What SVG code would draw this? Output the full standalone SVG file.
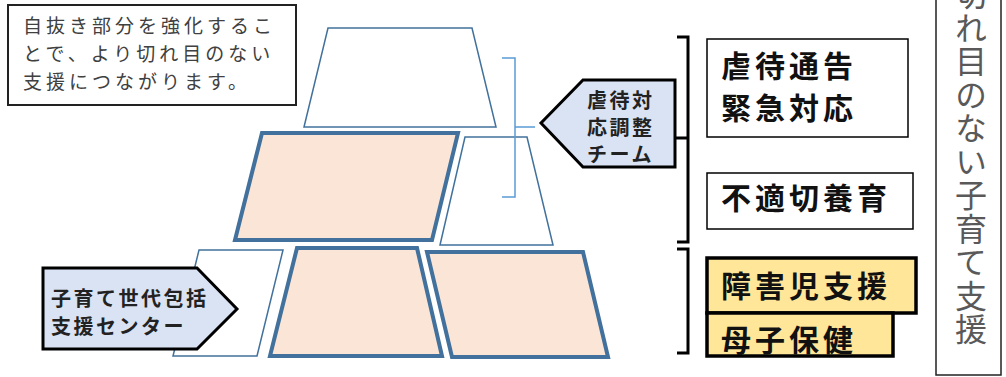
<svg xmlns="http://www.w3.org/2000/svg" width="1006" height="377" viewBox="0 0 1006 377">
<style>
.jp{font-family:"Noto Sans CJK JP","Noto Sans CJK SC",sans-serif}
.thin{fill:#fff;stroke:#41719c;stroke-width:1.5;stroke-linejoin:miter}
.thick{fill:#fbe5d6;stroke:#41719c;stroke-width:4;stroke-linejoin:miter}
.pent{fill:#dae3f3;stroke:#000;stroke-width:3}
.box{fill:#fff;stroke:#000;stroke-width:1.5}
.ybox{fill:#ffe699;stroke:#000;stroke-width:3.5}
.big{font-size:30px;font-weight:bold;letter-spacing:4px;fill:#111}
.mid{font-size:20px;font-weight:bold;letter-spacing:2.5px;fill:#222}
</style>
<rect width="1006" height="377" fill="#fff"/>
<g id="note">
<rect x="8" y="5" width="288" height="100" fill="#fff" stroke="#222" stroke-width="2"/>
<text class="jp" font-size="19" letter-spacing="4" fill="#404040"><tspan x="23" y="33">自抜き部分を強化するこ</tspan><tspan x="23" y="61">とで、より切れ目のない</tspan><tspan x="23" y="89">支援につながります。</tspan></text>
</g>
<g id="shapes">
<polygon id="top-trap" class="thin" points="328,28 472,28 496,127 304,127"/>
<polygon id="mid-para" class="thick" points="262,133 458,133 432,240 235,240"/>
<polygon id="mid-trap" class="thin" points="465,137 527,137 553,245 440,245"/>
<polygon id="bot-left" class="thin" points="199,250 283,250 257,356 173,356"/>
<polygon id="bot-mid" class="thick" points="297,248 417,248 442,356 270,356"/>
<polygon id="bot-right" class="thick" points="427,252 583,252 608,357 452,357"/>
</g>
<g id="connectors" fill="none">
<path d="M502,58 H515 V197 H502 M515,127 H535" stroke="#5b9bd5" stroke-width="1.5"/>
<path d="M677,37 H688 V242 H677 M675,138 H688" stroke="#000" stroke-width="3"/>
<path d="M677,249 H688 V353 H677" stroke="#000" stroke-width="3"/>
</g>
<g id="team">
<polygon class="pent" points="541,123 583,80 675,80 675,167 583,167"/>
<text class="jp mid"><tspan x="587" y="108">虐待対</tspan><tspan x="587" y="135">応調整</tspan><tspan x="587" y="162">チーム</tspan></text>
</g>
<g id="center">
<polygon class="pent" points="43,268 197,268 237,309 197,349 43,349"/>
<text class="jp mid"><tspan x="51" y="306">子育て世代包括</tspan><tspan x="51" y="334">支援センター</tspan></text>
</g>
<g id="box-gyakutai">
<rect class="box" x="707" y="39" width="201" height="98"/>
<text class="jp big"><tspan x="721" y="77">虐待通告</tspan><tspan x="721" y="119">緊急対応</tspan></text>
</g>
<g id="box-futekisetsu">
<rect class="box" x="707" y="173" width="206" height="56"/>
<text class="jp big" x="721" y="209">不適切養育</text>
</g>
<g id="box-shogai">
<rect class="ybox" x="707" y="258" width="209" height="55"/>
<text class="jp big" x="721" y="297">障害児支援</text>
</g>
<g id="box-boshi">
<rect class="ybox" x="707" y="313" width="186" height="43"/>
<text class="jp big" x="721" y="351">母子保健</text>
</g>
<g id="vertical">
<rect x="936" y="-10" width="65" height="385" fill="#fff" stroke="#222" stroke-width="1.5"/>
<text class="jp" font-size="32" fill="#595959" x="971" y="-22" style="writing-mode:vertical-rl" letter-spacing="1.5">切れ目のない子育て支援</text>
</g>
</svg>
